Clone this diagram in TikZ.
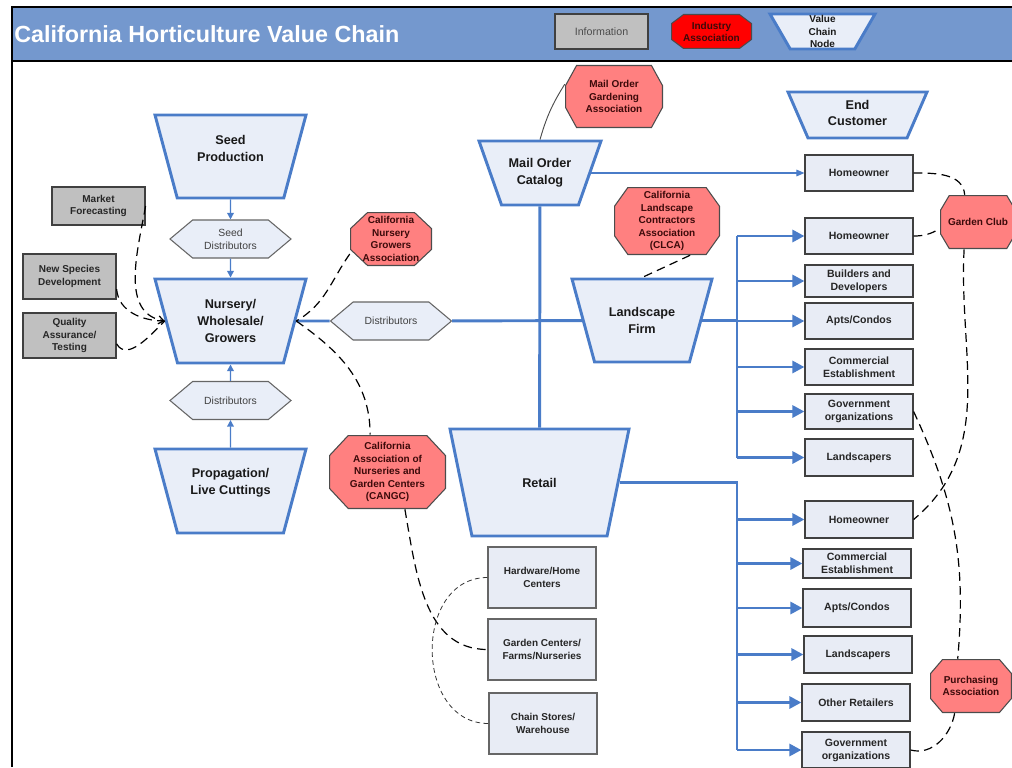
\documentclass[tikz,border=0pt]{standalone}
\usepackage{fontspec}
\setmainfont{Liberation Sans}
\usetikzlibrary{arrows.meta,shapes.geometric,shapes.symbols,calc}
\definecolor{hdr}{RGB}{116, 152, 206}
\definecolor{vc_blue}{RGB}{74, 124, 200}
\definecolor{vc_fill}{RGB}{233, 238, 248}
\definecolor{info_gray}{RGB}{192, 192, 192}
\definecolor{ia_red}{RGB}{255, 128, 128}
\definecolor{ia_text}{RGB}{60, 10, 10}
\definecolor{box_fill}{RGB}{232, 236, 245}
\tikzstyle{vc}=[trapezium,shape border rotate=180,trapezium stretches body,
  draw=vc_blue,fill=vc_fill,line width=2.2pt,inner xsep=0pt]
\tikzstyle{vct}=[align=center,inner sep=0pt,
  font=\fontsize{9.5}{12.4}\selectfont\bfseries,text=black!90]
\tikzstyle{hx}=[signal,signal to=east and west,signal pointer angle=80,
  draw=black!60,fill=vc_fill,line width=0.8pt,inner sep=0pt,align=center,
  minimum width=90.75pt,minimum height=28.5pt,
  font=\fontsize{7.8}{9.75}\selectfont,text=black!75]
\tikzstyle{ib}=[rectangle,draw=black!75,fill=info_gray,line width=0.9pt,
  inner sep=0pt,align=center,minimum width=69.75pt,
  font=\fontsize{7.5}{9.5}\selectfont\bfseries,text=black!85]
% octagon: fill colour, chamfer across, chamfer down
\tikzset{ia/.style n args={3}{rectangle,inner sep=0pt,align=center,
  font=\fontsize{7.5}{9.4}\selectfont\bfseries,text=ia_text,
  path picture={
    \coordinate (oc_nw) at ([shift={(0.4pt,-0.4pt)}]path picture bounding box.north west);
    \coordinate (oc_se) at ([shift={(-0.4pt,0.4pt)}]path picture bounding box.south east);
    \draw [fill=#1, draw=black!70, line width=0.8pt]
      ($(oc_nw)+(#2,0pt)$) -- ($(oc_nw -| oc_se)+(-#2,0pt)$) -- ($(oc_nw -| oc_se)+(0pt,-#3)$)
      -- ($(oc_se)+(0pt,#3)$) -- ($(oc_se)+(-#2,0pt)$) -- ($(oc_se -| oc_nw)+(#2,0pt)$)
      -- ($(oc_se -| oc_nw)+(0pt,#3)$) -- ($(oc_nw)+(0pt,-#3)$) -- cycle;
  }}}
\tikzstyle{cb}=[rectangle,draw=black!75,fill=box_fill,line width=0.9pt,
  inner sep=0pt,align=center,minimum width=81pt,
  font=\fontsize{7.9}{9.75}\selectfont\bfseries,text=black!85]
\tikzstyle{ta}=[draw=vc_blue,line width=1.1pt,-{Triangle[length=5pt,width=5pt]}]
\tikzstyle{tl}=[draw=vc_blue,line width=2.2pt]
\tikzstyle{tha}=[draw=vc_blue,line width=2.2pt,-{Triangle[length=9pt,width=9pt]}]
\tikzstyle{dl}=[draw=black,line width=0.9pt,dash pattern=on 6.5pt off 4pt]
\tikzstyle{fdl}=[draw=black!80,line width=0.6pt,dash pattern=on 3.5pt off 2.5pt]
\tikzstyle{sl}=[draw=black!70,line width=0.7pt]
\tikzstyle{none}=[]

\begin{document}
\begin{tikzpicture}[x=0.75pt, y=-0.75pt]
            \useasboundingbox (0, 0) rectangle (1012, 767);
            % header band
            \fill [hdr] (12, 8) rectangle (1012, 61);
            \draw [line width=1.2pt] (12, 61) to (1012, 61);
            \draw [line width=2pt] (12, 767) to (12, 7) to (1012, 7);
            \node [anchor=west, inner sep=0pt, text=white, font=\fontsize{17.5}{20}\selectfont\bfseries] (38) at (14, 34) {California Horticulture Value Chain};
            \node [style=ib, minimum width=69.75pt, minimum height=26.25pt, font=\fontsize{8}{9}\selectfont, text=black!70] (35) at (601.5, 31.5) {Information};
            \node [ia={red}{9pt}{6.75pt}, minimum width=60.75pt, minimum height=26.25pt, font=\fontsize{7.5}{9}\selectfont\bfseries] (36) at (711.5, 31.5) {Industry\\Association};
            \node [style=vc, trapezium angle=60, minimum width=78.75pt, inner ysep=13.125pt, label={[style=vct, font=\fontsize{7.5}{9.4}\selectfont\bfseries]center:Value\\Chain\\Node}] (37) at (822.5, 31.5) {};
            % value chain nodes
            \node [style=vc, trapezium angle=75, minimum width=113.25pt, inner ysep=31.125pt, label={[style=vct, yshift=6pt]center:Seed\\Production}] (0) at (230.5, 156.5) {};
            \node [style=hx] (1) at (230.5, 239) {Seed\\Distributors};
            \node [style=vc, trapezium angle=75, minimum width=113.25pt, inner ysep=31.5pt, label={[style=vct]center:Nursery/\\Wholesale/\\Growers}] (2) at (230.5, 321) {};
            \node [style=hx] (3) at (230.5, 400.5) {Distributors};
            \node [style=vc, trapezium angle=75, minimum width=113.25pt, inner ysep=31.5pt, label={[style=vct, yshift=6pt]center:Propagation/\\Live Cuttings}] (4) at (230.5, 491) {};
            \node [style=hx] (5) at (391, 321) {Distributors};
            \node [style=vc, trapezium angle=70.6, minimum width=91.5pt, inner ysep=24pt, label={[style=vct]center:Mail Order\\Catalog}] (6) at (540, 173) {};
            \node [style=vc, trapezium angle=74.8, minimum width=105pt, inner ysep=31.125pt, label={[style=vct]center:Landscape\\Firm}] (7) at (642, 320.5) {};
            \node [style=vc, trapezium angle=78.4, minimum width=134.25pt, inner ysep=40.125pt, label={[style=vct]center:Retail}] (8) at (539.5, 482.5) {};
            \node [style=vc, trapezium angle=66.5, minimum width=104.25pt, inner ysep=17.25pt, label={[style=vct, yshift=1.5pt]center:End\\Customer}] (9) at (857.5, 115) {};
            % information
            \node [style=ib, minimum height=28.5pt] (10) at (98.5, 206) {Market\\Forecasting};
            \node [style=ib, minimum height=33.75pt] (11) at (69.5, 276.5) {New Species\\Development};
            \node [style=ib, minimum height=33.75pt] (12) at (69.5, 335.5) {Quality\\Assurance/\\Testing};
            % industry associations
            \node [ia={ia_red}{12.75pt}{12pt}, minimum width=61.5pt, minimum height=40.5pt] (13) at (391, 239) {California\\Nursery\\Growers\\Association};
            \node [ia={ia_red}{8.25pt}{15pt}, minimum width=73.5pt, minimum height=47.25pt] (14) at (614, 96.5) {Mail Order\\Gardening\\Association};
            \node [ia={ia_red}{10pt}{14pt}, minimum width=79.5pt, minimum height=51pt] (15) at (667, 221) {California\\Landscape\\Contractors\\Association\\(CLCA)};
            \node [ia={ia_red}{14pt}{15pt}, minimum width=87.75pt, minimum height=55.5pt] (16) at (387.5, 472) {California\\Association of\\Nurseries and\\Garden Centers\\(CANGC)};
            \node [ia={ia_red}{6.5pt}{11pt}, minimum width=57pt, minimum height=40.5pt] (17) at (978, 222) {Garden Club};
            \node [ia={ia_red}{9pt}{10.5pt}, minimum width=61.5pt, minimum height=40.5pt] (18) at (971, 686) {Purchasing\\Association};
            % end customers
            \node [style=cb, minimum height=27pt] (19) at (859, 173) {Homeowner};
            \node [style=cb, minimum height=27pt] (20) at (859, 236) {Homeowner};
            \node [style=cb, minimum height=24pt] (21) at (859, 281) {Builders and\\Developers};
            \node [style=cb, minimum height=27pt] (22) at (859, 321) {Apts/Condos};
            \node [style=cb, minimum height=27pt] (23) at (859, 367) {Commercial\\Establishment};
            \node [style=cb, minimum height=26.25pt] (24) at (859, 411.5) {Government\\organizations};
            \node [style=cb, minimum height=27.75pt] (25) at (859, 457.5) {Landscapers};
            \node [style=cb, minimum height=27.75pt] (26) at (859, 519.5) {Homeowner};
            \node [style=cb, minimum height=21.75pt] (27) at (857, 563.5) {Commercial\\Establishment};
            \node [style=cb, minimum height=28.5pt] (28) at (857, 608) {Apts/Condos};
            \node [style=cb, minimum height=27.75pt] (29) at (858, 654.5) {Landscapers};
            \node [style=cb, minimum height=27.75pt] (30) at (856, 702.5) {Other Retailers};
            \node [style=cb, minimum height=27pt] (31) at (856, 750) {Government\\organizations};
            % retail outlets
            \node [style=cb, minimum height=45.75pt, draw=black!60, font=\fontsize{7.5}{9.75}\selectfont\bfseries] (32) at (542, 577.5) {Hardware/Home\\Centers};
            \node [style=cb, minimum height=45.75pt, draw=black!60, font=\fontsize{7.5}{9.75}\selectfont\bfseries] (33) at (542, 649.5) {Garden Centers/\\Farms/Nurseries};
            \node [style=cb, minimum height=45.75pt, draw=black!60, font=\fontsize{7.5}{9.75}\selectfont\bfseries] (34) at (543, 723.5) {Chain Stores/\\Warehouse};
            \node [style=none] (40) at (737, 236) {};
            % flows
            \draw [style=ta] (0) to (1);
            \draw [style=ta] (1) to (2);
            \draw [style=ta] (4) to (3);
            \draw [style=ta] (3) to (2);
            \draw [style=tl] (2) to (5);
            \draw [style=tl] (5) to (7);
            \draw [style=tl] (6) to (8);
            \draw [draw=vc_blue, line width=0.8pt, -{Triangle[length=6pt,width=5pt]}] (6) to (19);
            \draw [style=tl] (7) to (40.center |- 7);
            \draw [style=tl] (40.center |- 20) to (40.center |- 25);
            \foreach \n in {20,21,22,23,24,25}
                \draw [style=tha] (40.center |- \n) to (\n);
            \draw [style=tl] (8) to (40.center |- 8) to (40.center |- 31);
            \foreach \n in {26,27,28,29,30,31}
                \draw [style=tha] (40.center |- \n) to (\n);
            % influence
            \draw [style=dl, -{Straight Barb[length=4pt,width=6pt]}] (10.east) to[out=-100, in=170] (2.west);
            \draw [style=dl] (11.-15) to[out=-85, in=180] (2.west);
            \draw [style=dl] (12.-10) to[out=-60, in=225] (2.west);
            \draw [style=dl] (13.200) to[out=235, in=30] (2.east);
            \draw [style=dl] (2.east) to[out=-35, in=90] (16.115);
            \draw [style=sl] (14.166) to[bend right=8] (6.north);
            \draw [style=dl] (15.-56) to (7.north);
            \draw [style=dl] (16.-65) to[out=-80, in=180] (33.west);
            \draw [style=fdl] (32.west) to[out=180, in=180, looseness=1.3] (34.west);
            \draw [style=dl] (19.east) to[out=0, in=95] (17.116);
            \draw [style=dl] (20.east) to[out=0, in=210] (17.190);
            \draw [style=dl] (17.-117) to[out=-93, in=40] (26.east);
            \draw [style=dl] (24.east) to[out=-65, in=85] (18.116);
            \draw [style=dl] (18.-121) to[out=-100, in=-15] (31.east);
\end{tikzpicture}
\end{document}
